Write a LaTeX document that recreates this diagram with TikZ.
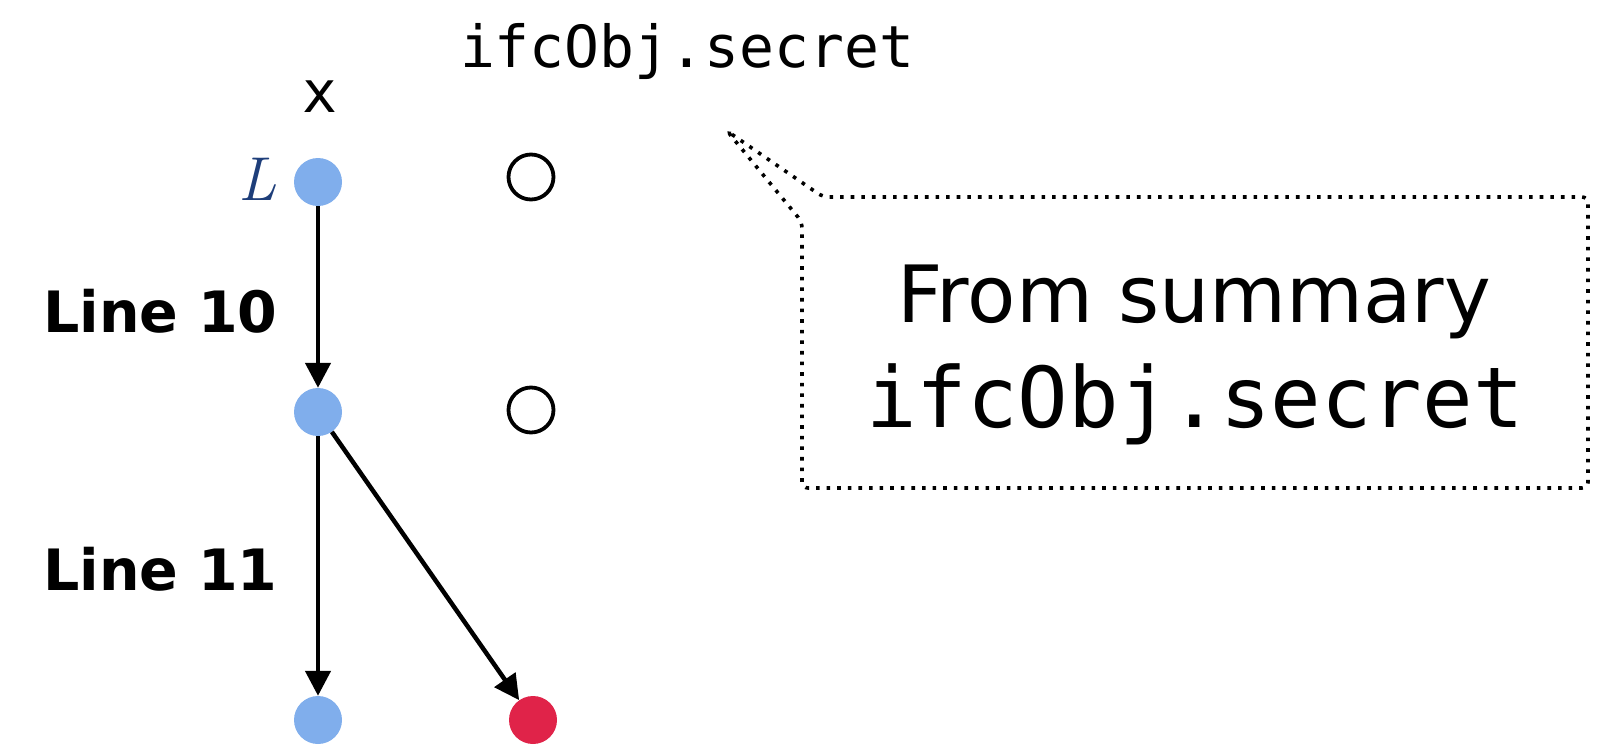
\documentclass[tikz,border=0pt]{standalone}
\usepackage{fontspec}
\setmainfont{DejaVu Sans}
\setmonofont{DejaVu Sans Mono}
\newfontfamily\lmroman{Latin Modern Roman}
\usetikzlibrary{arrows.meta}

\definecolor{nodeblue}{RGB}{128,174,236}
\definecolor{nodered}{RGB}{224,35,73}
\definecolor{labelblue}{RGB}{30,62,122}

\tikzset{
  state/.style={circle, inner sep=0pt, minimum size=48pt},
  bluenode/.style={state, fill=nodeblue},
  rednode/.style={state, fill=nodered},
  emptynode/.style={circle, inner sep=0pt, minimum size=45pt, draw=black, line width=3.8pt},
  flow/.style={line width=4.5pt, -{Triangle[length=25pt,width=25pt]}},
  callout/.style={line width=3.6pt, dash pattern=on 3.6pt off 7pt, rounded corners=6pt},
  codelabel/.style={font=\ttfamily\fontsize{58}{58}\selectfont, anchor=base, inner sep=0pt},
  linelabel/.style={font=\bfseries\fontsize{57}{57}\selectfont, anchor=base west, inner sep=0pt},
}

\begin{document}
\begin{tikzpicture}[x=1pt, y=-1pt]
  \useasboundingbox (0,0) rectangle (1608,750);

  % variable columns
  \node[codelabel] (xlab) at (320,112) {x};
  \node[codelabel] (flab) at (687,67) {ifcObj.secret};

  % states of x
  \node[bluenode] (x0) at (318,182) {};
  \node[bluenode] (x1) at (318,412) {};
  \node[bluenode] (x2) at (318,720) {};
  \node[font=\lmroman\itshape\fontsize{62}{62}\selectfont, text=labelblue, inner sep=0pt] (lev) at (257,179) {L};

  % states of the field
  \node[emptynode] (f0) at (531,177) {};
  \node[emptynode] (f1) at (531,410) {};
  \node[rednode] (f2) at (533,720) {};

  % transitions
  \draw[flow] (x0) -- (x1);
  \draw[flow] (x1) -- (x2);
  \draw[flow] (x1) -- (f2);

  \node[linelabel] (l10) at (43,332) {Line 10};
  \node[linelabel] (l11) at (43,590) {Line 11};

  % callout
  \coordinate (tip) at (727,131);
  \draw[callout] (tip) -- (823,197) -- (1588,197) -- (1588,488) -- (802,488) -- (802,222) -- cycle;
  \node[font=\fontsize{79}{79}\selectfont, anchor=base, inner sep=0pt] (sumA) at (1194,322) {From summary};
  \node[font=\ttfamily\fontsize{84}{84}\selectfont, anchor=base, inner sep=0pt] (sumB) at (1195,427) {ifcObj.secret};
\end{tikzpicture}
\end{document}
